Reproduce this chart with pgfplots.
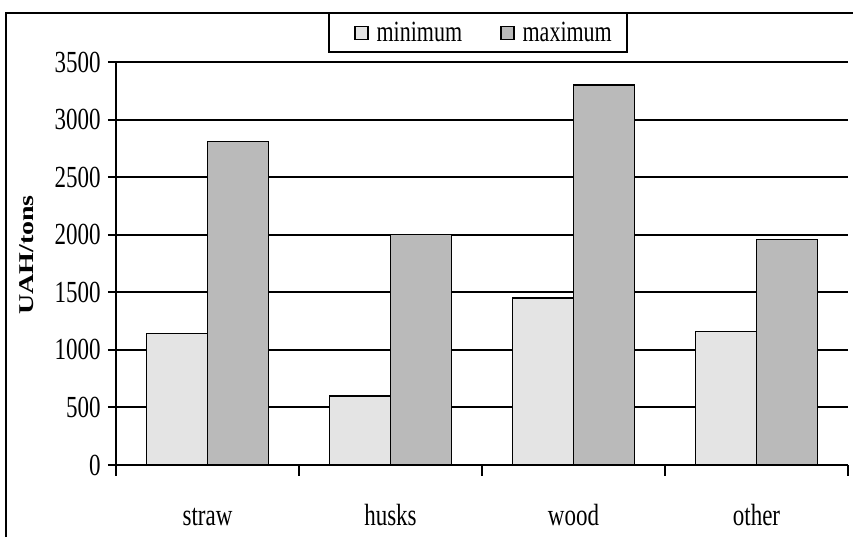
\documentclass[border=0pt]{standalone}
\usepackage{fontspec}
\setmainfont{Liberation Serif}[FakeStretch=0.75]
\newfontfamily\labelfont{Liberation Serif}
\usepackage{pgfplots}
\pgfplotsset{compat=1.18}

\definecolor{minfill}{RGB}{228,228,228}
\definecolor{maxfill}{RGB}{186,186,186}

\begin{document}
\begin{tikzpicture}
    \useasboundingbox (0pt,0pt) rectangle (639.75pt,402.75pt);
    % outer frame (only left and top edges are visible)
    \draw[line width=1.5pt] (4.5pt,0pt) -- (4.5pt,393pt) -- (639.75pt,393pt);

    \begin{axis}[
        at={(87pt,54pt)}, anchor=south west,
        scale only axis,
        width=549pt, height=302.25pt,
        xmin=-0.5, xmax=3.5,
        ymin=0, ymax=3500,
        axis lines*=left,
        axis line style={line width=1.5pt},
        ytick={0,500,...,3500},
        ymajorgrids,
        grid style={black, line width=1.5pt},
        xtick={0,1,2,3},
        xticklabels={straw,husks,wood,other},
        major x tick style={draw=none},
        minor xtick={-0.5,0.5,1.5,2.5,3.5},
        tick align=outside,
        major tick length=6pt,
        minor tick length=8pt,
        tick style={black, line width=1.5pt},
        xticklabel style={font=\fontsize{23}{23}\selectfont, anchor=base, yshift=-39.5pt},
        yticklabel style={font=\fontsize{23}{23}\selectfont, anchor=east, xshift=-2pt},
        /pgf/number format/assume math mode=true,
        /pgf/number format/1000 sep={},
        ylabel={\scalebox{1}[0.75]{\labelfont\fontsize{21}{21}\selectfont\bfseries UAH/tons}},
        ylabel style={at={(axis description cs:-0.1216,0.521)}, anchor=center},
        legend columns=2,
        legend style={
            at={(0.4945,1.1216)}, anchor=north,
            draw=black, line width=1.1pt,
            font=\fontsize{22}{22}\selectfont,
            inner xsep=8.25pt, inner ysep=4.25pt,
            nodes={inner xsep=3pt},
            /tikz/every odd column/.append style={column sep=3pt},
            /tikz/every even column/.append style={column sep=15pt},
        },
        legend cell align=left,
        legend image code/.code={
            \path (-10.5pt,0pt);
            \draw[#1, line width=1.1pt] (0pt,-4.9pt) rectangle (9.75pt,4.9pt);
        },
    ]
        \addplot[ybar, bar width=0.3333, bar shift=-0.1667,
            fill=minfill, draw=black, line width=1.1pt]
            coordinates {(0,1140) (1,600) (2,1450) (3,1160)};
        \addplot[ybar, bar width=0.3333, bar shift=0.1667,
            fill=maxfill, draw=black, line width=1.1pt]
            coordinates {(0,2810) (1,2000) (2,3300) (3,1960)};
        \legend{minimum, maximum}
    \end{axis}
\end{tikzpicture}
\end{document}
